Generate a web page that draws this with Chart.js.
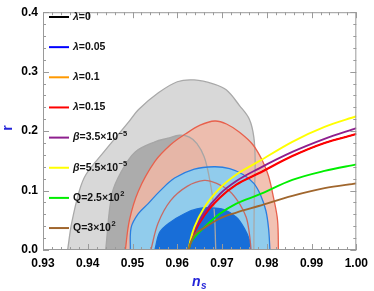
<!DOCTYPE html>
<html>
<head>
<meta charset="utf-8">
<script src="https://cdn.jsdelivr.net/npm/chart.js@4.4.1/dist/chart.umd.min.js"></script>
<style>
  body { margin: 0; background: #fff; }
  #box { width: 374px; height: 291px; }
</style>
</head>
<body>
<div id="box"><canvas id="chart"></canvas></div>
<script>
// contours (ns, r)
var grayOuterNs = [0.9355, 0.9364, 0.9381, 0.9396, 0.9436, 0.9491, 0.9513, 0.9557, 0.9600, 0.9638, 0.9682, 0.9710, 0.9739, 0.9761, 0.9771, 0.9774, 0.9772, 0.9771];
var grayOuterR  = [0, 0.045, 0.099, 0.127, 0.165, 0.215, 0.236, 0.264, 0.283, 0.286, 0.279, 0.269, 0.243, 0.220, 0.190, 0.149, 0.083, 0];
var grayInnerNs = [0.9440, 0.9454, 0.9475, 0.9506, 0.9550, 0.9579, 0.9605, 0.9627, 0.9644, 0.9660, 0.9671, 0.9682, 0.9686];
var grayInnerR  = [0, 0.094, 0.132, 0.165, 0.182, 0.188, 0.193, 0.190, 0.179, 0.157, 0.124, 0.071, 0];
var redOuterNs  = [0.9484, 0.9493, 0.9513, 0.9550, 0.9585, 0.9618, 0.9651, 0.9684, 0.9710, 0.9739, 0.9769, 0.9791, 0.9804, 0.9815, 0.9824, 0.9826];
var redOuterR   = [0, 0.050, 0.099, 0.149, 0.177, 0.195, 0.210, 0.217, 0.212, 0.198, 0.177, 0.149, 0.124, 0.088, 0.050, 0];
var redInnerNs  = [0.9541, 0.9557, 0.9585, 0.9622, 0.9660, 0.9688, 0.9717, 0.9739, 0.9754, 0.9761, 0.9765];
var redInnerR   = [0, 0.045, 0.083, 0.107, 0.117, 0.112, 0.099, 0.078, 0.055, 0.028, 0];
var blueOuterNs = [0.9495, 0.9497, 0.9513, 0.9535, 0.9561, 0.9594, 0.9638, 0.9682, 0.9717, 0.9747, 0.9771, 0.9787, 0.9798, 0.9804, 0.9807];
var blueOuterR  = [0, 0.038, 0.061, 0.078, 0.099, 0.121, 0.136, 0.140, 0.137, 0.127, 0.112, 0.091, 0.066, 0.036, 0];
var blueInnerNs = [0.9550, 0.9561, 0.9583, 0.9616, 0.9644, 0.9673, 0.9704, 0.9732, 0.9750, 0.9761, 0.9763];
var blueInnerR  = [0, 0.030, 0.046, 0.061, 0.069, 0.071, 0.068, 0.055, 0.036, 0.017, 0];

// model predictions
var curveNs    = [0.9625, 0.9630, 0.9638, 0.9660, 0.9695, 0.9732, 0.9782, 0.9857, 0.9929, 1.0];
var lambdaR    = [0, 0.015, 0.030, 0.058, 0.088, 0.110, 0.129, 0.158, 0.180, 0.195];
var beta35R    = [0, 0.016, 0.033, 0.062, 0.094, 0.116, 0.137, 0.165, 0.187, 0.205];
var beta55R    = [0, 0.018, 0.038, 0.071, 0.104, 0.127, 0.149, 0.182, 0.207, 0.225];
var q250R      = [0, 0.012, 0.021, 0.038, 0.061, 0.078, 0.093, 0.118, 0.133, 0.144];
var q300R      = [0, 0.012, 0.025, 0.037, 0.053, 0.063, 0.074, 0.091, 0.104, 0.112];

var xTicks = [0.93, 0.94, 0.95, 0.96, 0.97, 0.98, 0.99, 1.00];
var yTicks = [0.0, 0.1, 0.2, 0.3, 0.4];

var legendItems = [
    { color: '#000000', sym: 'λ', text: '=0', sup: '' },
    { color: '#0000ff', sym: 'λ', text: '=0.05', sup: '' },
    { color: '#ff9900', sym: 'λ', text: '=0.1', sup: '' },
    { color: '#ff0000', sym: 'λ', text: '=0.15', sup: '' },
    { color: '#8e1f8e', sym: 'β', text: '=3.5×10', sup: '−5' },
    { color: '#ffff00', sym: 'β', text: '=5.5×10', sup: '−5' },
    { color: '#00ee00', sym: 'Q', text: '=2.5×10', sup: '2' },
    { color: '#a0662d', sym: 'Q', text: '=3×10', sup: '2' }
];

function pts(xs, ys) {
    var out = [];
    for (let i = 0; i < xs.length; i++) {
        out.push({ x: xs[i], y: ys[i] });
    }
    return out;
}

function contour(xs, ys, line, fillColor) {
    return {
        data: pts(xs, ys),
        borderColor: line,
        borderWidth: 1.3,
        backgroundColor: fillColor || 'rgba(0,0,0,0)',
        fill: fillColor ? 'shape' : false,
        tension: 0.35,
        pointRadius: 0
    };
}

function curve(ys, color, width) {
    return {
        data: pts(curveNs, ys),
        borderColor: color,
        borderWidth: width || 1.9,
        fill: false,
        cubicInterpolationMode: 'monotone',
        pointRadius: 0
    };
}

// listed bottom to top; Chart.js paints index 0 last, so reverse
var datasets = [
    contour(grayOuterNs, grayOuterR, '#a9a9a9', 'rgb(216,216,216)'),
    contour(grayInnerNs, grayInnerR, '#a6a6a6', 'rgb(172,172,172)'),
    contour(redOuterNs, redOuterR, '#e8604c', 'rgba(240,184,166,0.86)'),
    contour(blueOuterNs, blueOuterR, '#2a7ee0', 'rgb(145,204,236)'),
    contour(blueInnerNs, blueInnerR, '#1a6fd8', 'rgb(24,110,216)'),
    contour(redInnerNs, redInnerR, 'rgba(205,95,85,0.9)', null),
    // the lambda lines sit under the red one
    curve(lambdaR, '#000000', 1),
    curve(lambdaR, '#0000ff', 1),
    curve(lambdaR, '#ff9900', 1),
    curve(lambdaR, '#ff0000', 2.1),
    curve(beta35R, '#8e1f8e'),
    curve(beta55R, '#ffff00'),
    curve(q250R, '#00ee00'),
    curve(q300R, '#a0662d')
].reverse();

var FONT = "'Liberation Sans', Arial, sans-serif";

// frame with inward ticks, axis titles and legend
var framePlugin = {
    id: 'frame',
    afterDatasetsDraw: function (chart) {
        const ctx = chart.ctx;
        const a = chart.chartArea;
        const xs = chart.scales.x;
        const ys = chart.scales.y;
        ctx.save();
        ctx.strokeStyle = '#9a9a9a';
        ctx.lineWidth = 1;
        ctx.strokeRect(a.left + 0.5, a.top + 0.5, a.right - a.left - 1, a.bottom - a.top - 1);
        ctx.beginPath();
        for (let i = 0; i <= 35; i++) {
            const v = 0.93 + i * 0.002;
            const px = Math.round(xs.getPixelForValue(v)) + 0.5;
            const len = (i % 5 === 0) ? 6 : 3;
            ctx.moveTo(px, a.bottom); ctx.lineTo(px, a.bottom - len);
            ctx.moveTo(px, a.top); ctx.lineTo(px, a.top + len);
        }
        for (let i = 0; i <= 20; i++) {
            const v = i * 0.02;
            const py = Math.round(ys.getPixelForValue(v)) + 0.5;
            const len = (i % 5 === 0) ? 6 : 3;
            ctx.moveTo(a.left, py); ctx.lineTo(a.left + len, py);
            ctx.moveTo(a.right, py); ctx.lineTo(a.right - len, py);
        }
        ctx.stroke();
        ctx.restore();
    },
    afterDraw: function (chart) {
        const ctx = chart.ctx;
        ctx.save();
        // axis titles
        ctx.fillStyle = '#2424d8';
        ctx.font = 'bold 14px ' + FONT;
        ctx.textAlign = 'center';
        ctx.textBaseline = 'middle';
        ctx.translate(8, 128);
        ctx.rotate(-Math.PI / 2);
        ctx.fillText('r', 0, 0);
        ctx.setTransform(1, 0, 0, 1, 0, 0);
        ctx.font = 'italic bold 14px ' + FONT;
        ctx.textAlign = 'left';
        ctx.textBaseline = 'alphabetic';
        ctx.fillText('n', 192, 286);
        ctx.font = 'italic bold 10px ' + FONT;
        ctx.fillText('s', 201, 289);

        // legend
        for (let i = 0; i < legendItems.length; i++) {
            const it = legendItems[i];
            const y = 17 + i * 30.15;
            ctx.strokeStyle = it.color;
            ctx.lineWidth = 2;
            ctx.beginPath();
            ctx.moveTo(49, y);
            ctx.lineTo(69, y);
            ctx.stroke();
            ctx.fillStyle = '#111';
            ctx.textBaseline = 'middle';
            let x = 73;
            ctx.font = (it.sym === 'Q' ? '' : 'italic ') + 'bold 10.5px ' + FONT;
            ctx.fillText(it.sym, x, y);
            x += ctx.measureText(it.sym).width;
            ctx.font = 'bold 10.5px ' + FONT;
            ctx.fillText(it.text, x, y);
            x += ctx.measureText(it.text).width;
            if (it.sup) {
                ctx.font = 'bold 7.5px ' + FONT;
                ctx.fillText(it.sup, x + 0.5, y - 4);
            }
        }
        ctx.restore();
    }
};

new Chart(document.getElementById('chart'), {
    type: 'scatter',
    data: { datasets: datasets },
    options: {
        responsive: true,
        maintainAspectRatio: false,
        animation: false,
        showLine: true,
        layout: { padding: { top: 8, right: 12, left: 0, bottom: 0 } },
        plugins: {
            legend: { display: false },
            tooltip: { enabled: false },
            filler: { drawTime: 'beforeDatasetsDraw' }
        },
        scales: {
            x: {
                type: 'linear',
                min: 0.93,
                max: 1.0,
                afterFit: function (s) { s.height = 41; },
                afterBuildTicks: function (s) { s.ticks = xTicks.map(function (v) { return { value: v }; }); },
                grid: { display: false, drawTicks: false },
                border: { display: false },
                ticks: {
                    padding: 6,
                    color: '#000',
                    font: { family: FONT, size: 12, weight: 'bold' },
                    maxRotation: 0,
                    callback: function (v) { return v.toFixed(2); }
                }
            },
            y: {
                type: 'linear',
                min: 0,
                max: 0.4,
                afterFit: function (s) { s.width = 43; },
                afterBuildTicks: function (s) { s.ticks = yTicks.map(function (v) { return { value: v }; }); },
                grid: { display: false, drawTicks: false },
                border: { display: false },
                ticks: {
                    padding: 5,
                    color: '#000',
                    font: { family: FONT, size: 12, weight: 'bold' },
                    callback: function (v) { return v.toFixed(1); }
                }
            }
        }
    },
    plugins: [framePlugin]
});
</script>
</body>
</html>
